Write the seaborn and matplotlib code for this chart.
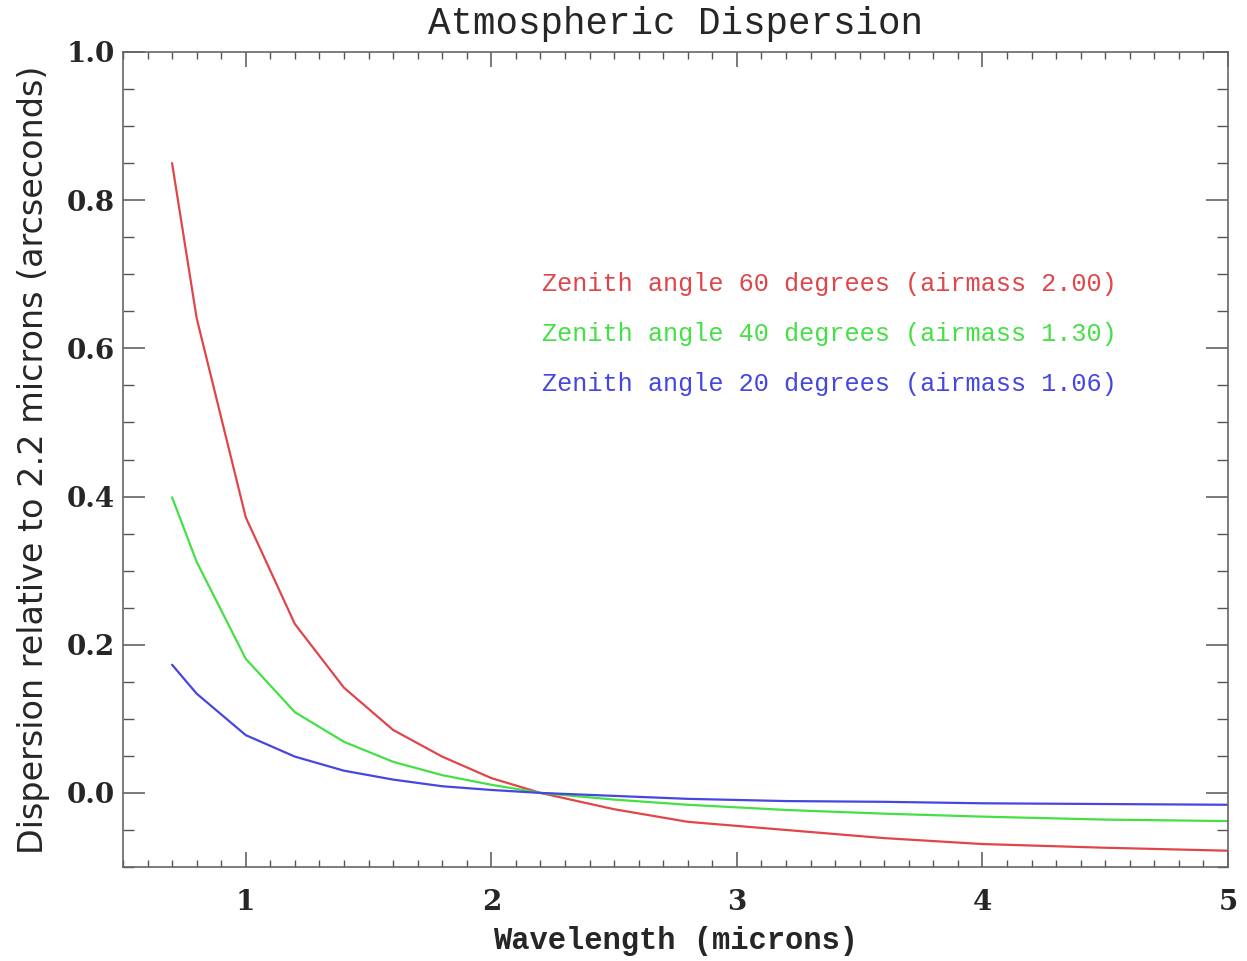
import numpy as np
import pandas as pd
import matplotlib
matplotlib.use("Agg")
import matplotlib.pyplot as plt
import seaborn as sns
from matplotlib.ticker import MultipleLocator

# Données
wavelength = [0.7, 0.8, 1.0, 1.2, 1.4, 1.6, 1.8, 2.0, 2.2, 2.5, 2.8, 3.2, 3.6, 4.0, 4.5, 5.0]
disp_60 = [0.850, 0.641, 0.372, 0.228, 0.142, 0.085, 0.049, 0.020, 0.0,
           -0.022, -0.039, -0.050, -0.061, -0.069, -0.074, -0.078]
disp_40 = [0.399, 0.312, 0.181, 0.109, 0.069, 0.042, 0.024, 0.011, 0.0,
           -0.009, -0.016, -0.023, -0.028, -0.032, -0.036, -0.038]
disp_20 = [0.173, 0.134, 0.078, 0.049, 0.030, 0.018, 0.009, 0.004, 0.0,
           -0.004, -0.008, -0.011, -0.012, -0.014, -0.015, -0.016]
labels = ["Zenith angle 60 degrees (airmass 2.00)",
          "Zenith angle 40 degrees (airmass 1.30)",
          "Zenith angle 20 degrees (airmass 1.06)"]
colors = ["#e04649", "#45e045", "#4646e0"]

frames = []
for lab, vals in zip(labels, [disp_60, disp_40, disp_20]):
    frames.append(pd.DataFrame({"wavelength": wavelength, "dispersion": vals, "angle": lab}))
df = pd.concat(frames, ignore_index=True)

sns.set_style("ticks")
fig = plt.figure(figsize=(12.47, 9.61), dpi=100)
ax = fig.add_axes([0.0986, 0.0978, 0.8862, 0.8481])

sns.lineplot(data=df, x="wavelength", y="dispersion", hue="angle",
             palette=dict(zip(labels, colors)), linewidth=1.6, ax=ax, legend=False)

ax.set_xlim(0.5, 5)
ax.set_ylim(-0.1, 1.0)
ax.xaxis.set_major_locator(MultipleLocator(1))
ax.xaxis.set_minor_locator(MultipleLocator(0.1))
ax.yaxis.set_major_locator(MultipleLocator(0.2))
ax.yaxis.set_minor_locator(MultipleLocator(0.05))
ax.xaxis.set_major_formatter(plt.FuncFormatter(lambda v, p: f"{v:.0f}"))
ax.yaxis.set_major_formatter(plt.FuncFormatter(lambda v, p: f"{v:.1f}"))

for s in ax.spines.values():
    s.set_color("#666666")
    s.set_linewidth(1.2)
ax.tick_params(axis="x", which="major", direction="in", length=11, width=1.1,
               color="#555555", top=True, bottom=True, pad=16)
ax.tick_params(axis="x", which="minor", direction="in", length=5, width=1.0,
               color="#555555", top=True, bottom=True)
ax.tick_params(axis="y", which="major", direction="in", length=16, width=1.1,
               color="#555555", left=True, right=True, pad=6)
ax.tick_params(axis="y", which="minor", direction="in", length=8, width=1.0,
               color="#555555", left=True, right=True)
for t in ax.get_xticklabels() + ax.get_yticklabels():
    t.set_fontfamily("DejaVu Serif")
    t.set_fontweight("bold")
    t.set_fontsize(20)

ax.set_xlabel("Wavelength (microns)", fontsize=22, fontweight="bold",
              fontfamily="Liberation Mono", labelpad=7)
ax.set_ylabel("Dispersion relative to 2.2 microns (arcseconds)", fontsize=24,
              fontfamily="DejaVu Sans", labelpad=12)
ax.set_title("Atmospheric Dispersion", fontsize=27, fontfamily="Liberation Mono", pad=13)

for i, (lab, col) in enumerate(zip(labels, colors)):
    ax.text(0.379, 0.715 - i * 0.0613, lab, color=col, fontsize=18.2,
            fontfamily="Liberation Mono", transform=ax.transAxes, va="center")

fig.savefig("out.png", dpi=100, facecolor="white")
